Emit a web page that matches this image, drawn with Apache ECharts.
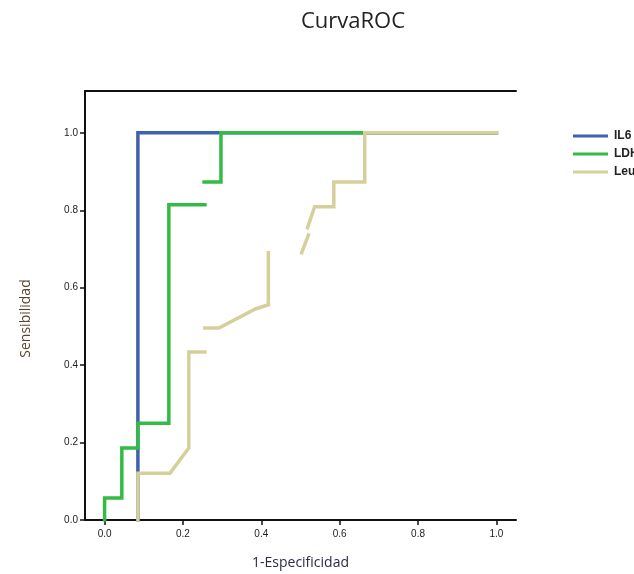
<!DOCTYPE html>
<html>
<head>
<meta charset="utf-8">
<script src="https://cdn.jsdelivr.net/npm/echarts@6/dist/echarts.min.js"></script>
<style>
  html, body { margin: 0; padding: 0; background: #fff; }
</style>
</head>
<body>
<div id="main" style="width: 634px;height:574px;"></div>
<script type="text/javascript">
    // datos de la curva ROC: [1-especificidad, sensibilidad]; null = corte en la curva
    var seriesNames = ['IL6', 'LDH', 'Leu'];
    var tickValues = [0, 0.2, 0.4, 0.6, 0.8, 1.0];

    var il6 = [[0.085, 0], [0.085, 1.0], [1.0, 1.0]];
    var ldh = [[0, 0], [0, 0.057], [0.044, 0.057], [0.044, 0.186], [0.085, 0.186],
        [0.085, 0.25], [0.164, 0.25], [0.164, 0.814], [0.256, 0.814], null,
        [0.254, 0.873], [0.297, 0.873], [0.297, 1.0], [1.0, 1.0]];
    var leu = [[0.085, 0], [0.085, 0.121], [0.167, 0.121], [0.215, 0.186], [0.215, 0.434],
        [0.256, 0.434], null,
        [0.256, 0.496], [0.292, 0.496], [0.385, 0.545], [0.418, 0.556], [0.418, 0.69], null,
        [0.503, 0.69], [0.52, 0.736], null,
        [0.518, 0.755], [0.536, 0.809], [0.585, 0.809], [0.585, 0.873], [0.664, 0.873],
        [0.664, 1.0], [1.0, 1.0]];

    var colors = ['#4060b0', '#33bb44', '#d5d09a'];

    var myChart = echarts.init(document.getElementById('main'));

    function lineSeries(name, data, color) {
        return {
            name: name,
            type: 'line',
            data: data,
            showSymbol: false,
            connectNulls: false,
            animation: false,
            lineStyle: { color: color, width: 3.5, cap: 'square', join: 'miter' },
            itemStyle: { color: color }
        };
    }

    var axisFont = { fontFamily: 'Liberation Sans', fontSize: 10, color: '#222' };

    var option = {
        title: {
            text: 'CurvaROC',
            left: 348,
            top: 6,
            textAlign: 'center',
            textStyle: { fontFamily: 'Open Sans', fontSize: 22, fontWeight: 'normal', color: '#222' }
        },
        legend: {
            orient: 'vertical',
            left: 568,
            top: 125,
            itemWidth: 35,
            itemHeight: 3,
            itemGap: 6,
            icon: 'rect',
            data: seriesNames,
            textStyle: { fontFamily: 'Liberation Sans', fontSize: 12, fontWeight: 'bold', color: '#222', padding: [0, 0, 0, 1] }
        },
        grid: { left: 85, top: 91, right: 118, bottom: 54, outerBoundsMode: 'none', containLabel: false },
        xAxis: [{
            type: 'value',
            min: -0.05,
            max: 1.05,
            name: '1-Especificidad',
            nameLocation: 'middle',
            nameGap: 36,
            nameTextStyle: { fontFamily: 'Open Sans', fontSize: 14, color: '#2a2a4a' },
            axisLine: { show: true, onZero: false, lineStyle: { color: '#111', width: 2 } },
            axisTick: { show: true, length: 5, customValues: tickValues, lineStyle: { color: '#111', width: 1.5 } },
            axisLabel: Object.assign({ margin: 9, customValues: tickValues, formatter: function (v) { return v.toFixed(1); } }, axisFont),
            splitLine: { show: false }
        }, {
            type: 'value',
            position: 'top',
            min: -0.05,
            max: 1.05,
            axisLine: { show: true, onZero: false, lineStyle: { color: '#111', width: 2 } },
            axisTick: { show: false },
            axisLabel: { show: false },
            splitLine: { show: false }
        }],
        yAxis: {
            type: 'value',
            min: 0,
            max: 1.108,
            name: 'Sensibilidad',
            nameLocation: 'middle',
            nameGap: 52,
            nameTextStyle: { fontFamily: 'Open Sans', fontSize: 14, color: '#5a4630', padding: [0, 0, 0, -26] },
            axisLine: { show: true, onZero: false, lineStyle: { color: '#111', width: 2 } },
            axisTick: { show: true, length: 5, customValues: tickValues, lineStyle: { color: '#111', width: 1.5 } },
            axisLabel: Object.assign({ margin: 7, customValues: tickValues, formatter: function (v) { return v.toFixed(1); } }, axisFont),
            splitLine: { show: false }
        },
        series: [
            lineSeries(seriesNames[0], il6, colors[0]),
            lineSeries(seriesNames[1], ldh, colors[1]),
            lineSeries(seriesNames[2], leu, colors[2])
        ]
    };

    myChart.setOption(option);
</script>
</body>
</html>
